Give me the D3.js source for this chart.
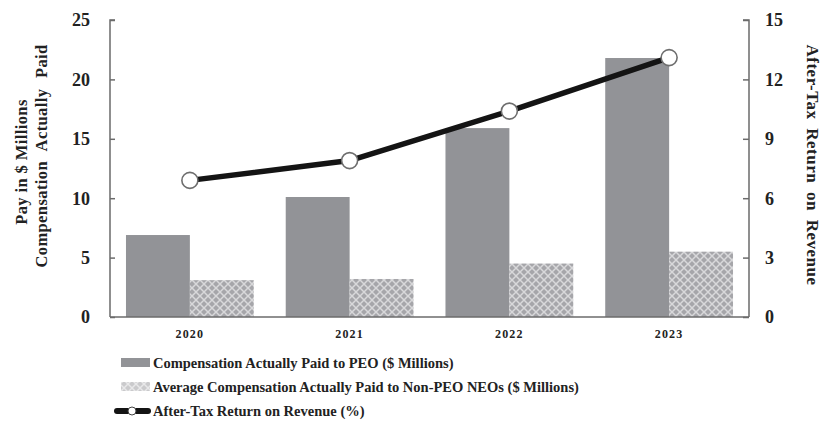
<!DOCTYPE html>
<html><head><meta charset="utf-8">
<script src="https://cdn.jsdelivr.net/npm/d3@7/dist/d3.min.js"></script>
<style>
body{margin:0;background:#fff;}
svg{display:block;font-family:"Liberation Serif","Times New Roman",serif;font-weight:bold;}
</style></head>
<body><svg id="c" width="822" height="426"></svg>
<script>
const years = ["2020","2021","2022","2023"];
const peoPay = [6.9, 10.1, 15.9, 21.8];
const neoPay = [3.1, 3.2, 4.5, 5.5];
const returnOnRevenue = [6.9, 7.9, 10.4, 13.1];
const leftTicks = [0,5,10,15,20,25];
const rightTicks = [0,3,6,9,12,15];
const legendLabels = [
  "Compensation Actually Paid to PEO ($ Millions)",
  "Average Compensation Actually Paid to Non-PEO NEOs ($ Millions)",
  "After-Tax Return on Revenue (%)"
];

const svg = d3.select("#c");
const L = 110, R = 749, T = 20, B = 317;

const defs = svg.append("defs");
const pat = defs.append("pattern").attr("id","hatch").attr("patternUnits","userSpaceOnUse")
  .attr("width",8).attr("height",8);
pat.append("rect").attr("width",8).attr("height",8).attr("fill","#a6a6aa");
pat.append("path").attr("d","M0,0 L8,8 M8,0 L0,8").attr("stroke","#d8d8da").attr("stroke-width",1.5);

const x = d3.scaleBand().domain(years).range([L, R]).paddingInner(0.2).paddingOuter(0.1);
const xs = d3.scaleBand().domain(["peo","neo"]).range([0, x.bandwidth()]);
const yL = d3.scaleLinear().domain([0,25]).range([B, T]);
const yR = d3.scaleLinear().domain([0,15]).range([B, T]);

// bars
svg.append("g").selectAll("rect").data(years).join("rect")
  .attr("x", d => x(d) + xs("peo")).attr("width", xs.bandwidth())
  .attr("y", (d,i) => yL(peoPay[i])).attr("height", (d,i) => B - yL(peoPay[i]))
  .attr("fill", "#929397");
svg.append("g").selectAll("rect").data(years).join("rect")
  .attr("x", d => x(d) + xs("neo")).attr("width", xs.bandwidth())
  .attr("y", (d,i) => yL(neoPay[i])).attr("height", (d,i) => B - yL(neoPay[i]))
  .attr("fill", "url(#hatch)");

// axes
const axL = svg.append("g").attr("transform", `translate(${L},0)`)
  .call(d3.axisRight(yL).tickValues(leftTicks).tickSize(5).tickFormat(""));
const axR = svg.append("g").attr("transform", `translate(${R},0)`)
  .call(d3.axisLeft(yR).tickValues(rightTicks).tickSize(6).tickFormat(""));
const axB = svg.append("g").attr("transform", `translate(0,${B})`)
  .call(d3.axisBottom(x).tickSize(0).tickPadding(12));
[axL, axR, axB].forEach(a => {
  a.attr("font-family", null).attr("font-size", null);
  a.selectAll("path,line").attr("stroke","#6b6b6b").attr("stroke-width",1.5);
});
axL.select(".domain").attr("d", `M5,${T}H0V${B}`);
axR.select(".domain").attr("d", `M-6,${T}H0V${B}`);
axB.select(".domain").attr("d", `M${L},0H${R}`);
axB.selectAll("text").attr("font-size",12).attr("font-family","Liberation Serif").attr("letter-spacing","1.2px").attr("fill","#222");

// tick labels
svg.append("g").selectAll("text").data(leftTicks).join("text")
  .attr("x", 90).attr("y", d => yL(d)).attr("dy","0.35em").attr("text-anchor","end")
  .attr("font-size",18).attr("fill","#222").text(d => d);
svg.append("g").selectAll("text").data(rightTicks).join("text")
  .attr("x", 765).attr("y", d => yR(d)).attr("dy","0.35em").attr("text-anchor","start")
  .attr("font-size",18).attr("fill","#222").text(d => d);

// axis titles
svg.append("text").attr("transform","translate(27,162) rotate(-90)").attr("text-anchor","middle")
  .attr("font-size",16.5).attr("letter-spacing","0.4px").attr("fill","#222").text("Pay in $ Millions");
svg.append("text").attr("transform","translate(47,156) rotate(-90)").attr("text-anchor","middle")
  .attr("font-size",16.5).attr("letter-spacing","0.4px").attr("word-spacing","6px").attr("fill","#222").text("Compensation Actually Paid");
svg.append("text").attr("transform","translate(807,165) rotate(90)").attr("text-anchor","middle")
  .attr("font-size",17).attr("letter-spacing","0.5px").attr("word-spacing","4px").attr("fill","#222").text("After-Tax Return on Revenue");

// line
const cx = d => x(d) + x.bandwidth()/2;
const line = d3.line().x(d => cx(d)).y((d,i) => yR(returnOnRevenue[i]));
svg.append("path").datum(years).attr("d", line).attr("fill","none")
  .attr("stroke","#141414").attr("stroke-width",5.5).attr("stroke-linejoin","round");
svg.append("g").selectAll("circle").data(years).join("circle")
  .attr("cx", d => cx(d)).attr("cy", (d,i) => yR(returnOnRevenue[i])).attr("r", 8)
  .attr("fill","#fff").attr("stroke","#6e6e6e").attr("stroke-width",1.6);

// legend
const lg = svg.append("g");
const ly = [363, 387, 411];
lg.append("rect").attr("x",121).attr("y",ly[0]-5).attr("width",29).attr("height",9).attr("fill","#929397");
lg.append("rect").attr("x",121).attr("y",ly[1]-5).attr("width",29).attr("height",9).attr("fill","url(#hatch)").attr("opacity",0.6);
lg.append("line").attr("x1",117).attr("x2",148).attr("y1",ly[2]).attr("y2",ly[2]).attr("stroke","#141414").attr("stroke-width",6).attr("stroke-linecap","round");
lg.append("circle").attr("cx",132).attr("cy",ly[2]).attr("r",4).attr("fill","#fff").attr("stroke","#444").attr("stroke-width",1);
lg.selectAll("text").data(legendLabels).join("text")
  .attr("x",153).attr("y",(d,i)=>ly[i]).attr("dy","0.35em")
  .attr("font-size",14.5).attr("fill","#222").text(d => d);
</script></body></html>
